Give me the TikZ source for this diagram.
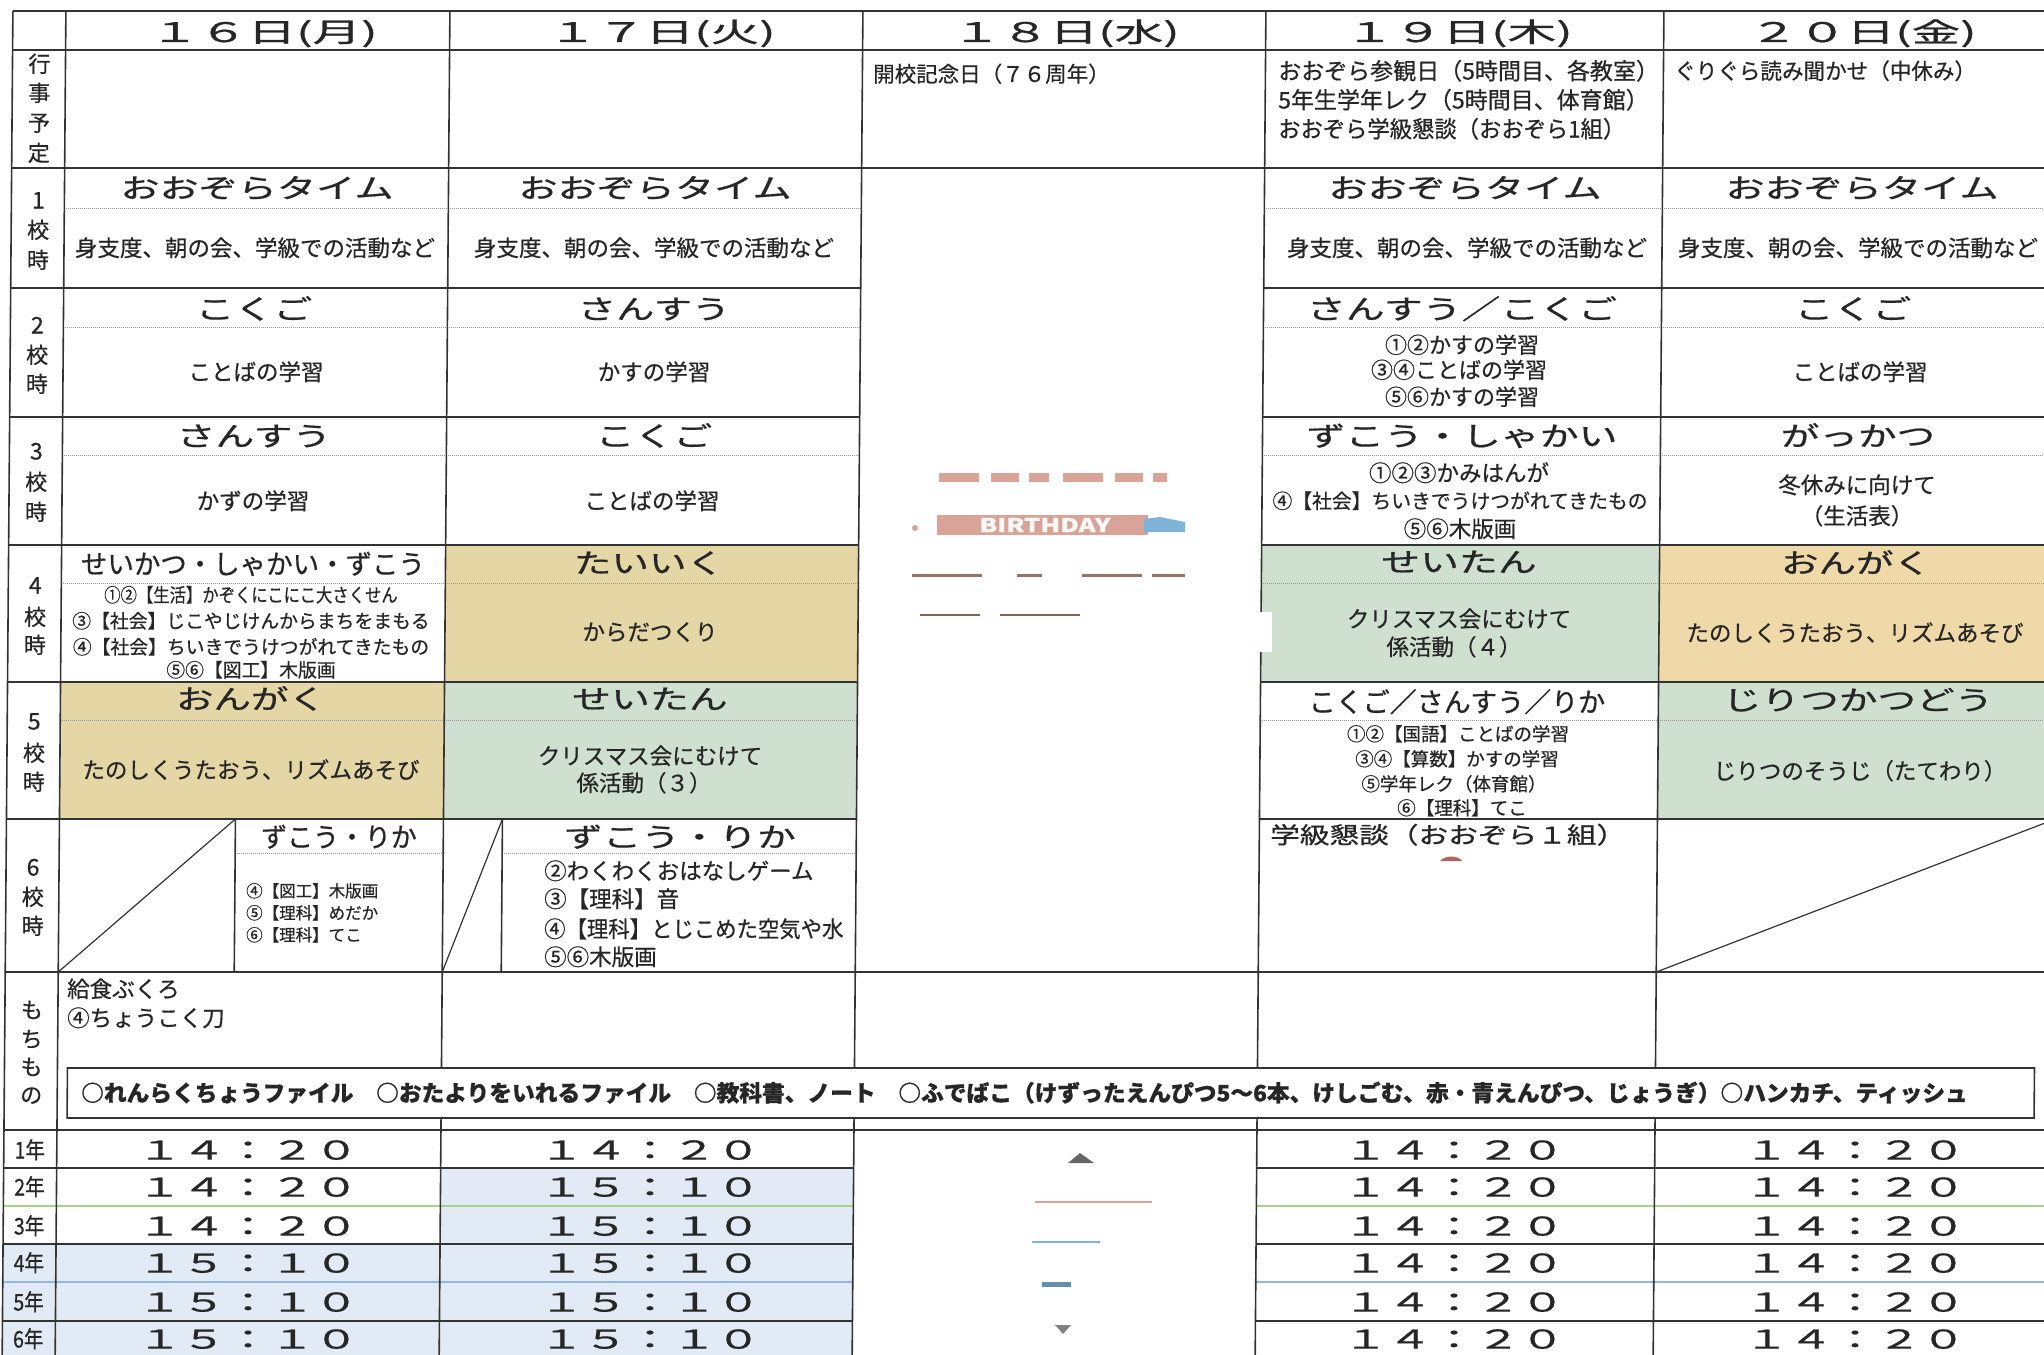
\documentclass[tikz,border=0pt]{standalone}
\usepackage{fontspec}
\usepackage{graphicx}
\setmainfont{Noto Sans CJK JP}[FakeBold=0.6]
\definecolor{tanA}{HTML}{E5D6A6}
\definecolor{tanB}{HTML}{EFD9A8}
\definecolor{grn}{HTML}{D0E0D0}
\definecolor{blu}{HTML}{E2EBF5}
\definecolor{gline}{HTML}{A9D18E}
\definecolor{bline}{HTML}{94B6DA}
\definecolor{ink}{HTML}{262626}
\definecolor{pnk}{HTML}{D9A397}
\definecolor{bluish}{HTML}{7FB3D8}
\newcounter{tn}
\newcommand\T[6]{\stepcounter{tn}\node[anchor=#1,yshift={-0.37*#4pt}] (t\arabic{tn}) at (#2,#3) {\fontsize{#4pt}{#4pt}\selectfont\scalebox{#5}[1]{#6}};}
\tikzset{
  grid/.style={draw=black!80,line width=1.6pt},
  sub/.style={draw=black!40,line width=1pt,densely dotted},
  every node/.style={inner sep=0pt,text=ink}
}
\begin{document}
\begin{tikzpicture}[x=1pt,y=-1pt]
\useasboundingbox (0,0) rectangle (2044,1354);
\fill[white] (0,0) rectangle (2044,1354);
\clip (0,0) rectangle (2044,1354);
\begin{scope}[xslant=0.008]
% cell fills
\fill[tanA] (66,682) rectangle (450,819);
\fill[tanA] (450,545) rectangle (863,682);
\fill[grn] (450,682) rectangle (863,819);
\fill[grn] (1266,545) rectangle (1664,682);
\fill[tanB] (1664,545) rectangle (2075,682);
\fill[grn] (1664,682) rectangle (2075,819);
\fill[blu] (13,1244) rectangle (450,1365);
\fill[blu] (450,1168) rectangle (863,1365);
% horizontal lines
\foreach \y in {11,50,168,972,1130} \draw[grid] (13,\y) -- (2075,\y);
\foreach \y in {288,417,545,682,819,1168,1244,1321} {\draw[grid] (13,\y) -- (863,\y); \draw[grid] (1266,\y) -- (2075,\y);}
\foreach \y/\c in {1206/gline,1282/bline} {\draw[draw=\c,line width=2.2pt] (13,\y) -- (863,\y); \draw[draw=\c,line width=2.2pt] (1266,\y) -- (2075,\y);}
\foreach \y in {208,327,455,583,720} {\draw[sub] (66,\y) -- (863,\y); \draw[sub] (1266,\y) -- (2075,\y);}
\draw[sub] (242,853) -- (450,853);
\draw[sub] (509,853) -- (863,853);
% vertical lines
\foreach \x in {13,66,450,863,1266,1664} \draw[grid] (\x,11) -- (\x,1365);
\draw[grid] (242,819) -- (242,972);
\draw[grid] (509,819) -- (509,972);
% diagonals
\draw[grid,line width=1.2pt] (66,972) -- (242,819);
\draw[grid,line width=1.2pt] (450,972) -- (509,819);
\draw[grid,line width=1.2pt] (1664,972) -- (2062,819);
% belongings box
\draw[grid,fill=white] (76,1068) rectangle (2043,1118);
% label column
\T{base}{40}{64}{22}{1}{行}
\T{base}{40}{93}{22}{1}{事}
\T{base}{40}{123}{22}{1}{予}
\T{base}{40}{153}{22}{1}{定}
\T{base}{40}{200}{23}{1}{1}
\T{base}{40}{230}{22}{1}{校}
\T{base}{40}{260}{22}{1}{時}
\T{base}{40}{325}{23}{1}{2}
\T{base}{40}{355}{22}{1}{校}
\T{base}{40}{384}{22}{1}{時}
\T{base}{40}{451}{23}{1}{3}
\T{base}{40}{482}{22}{1}{校}
\T{base}{40}{512}{22}{1}{時}
\T{base}{40}{585}{23}{1}{4}
\T{base}{40}{617}{22}{1}{校}
\T{base}{40}{645}{22}{1}{時}
\T{base}{40}{721}{23}{1}{5}
\T{base}{40}{753}{22}{1}{校}
\T{base}{40}{782}{22}{1}{時}
\T{base}{40}{867}{23}{1}{6}
\T{base}{40}{897}{22}{1}{校}
\T{base}{40}{926}{22}{1}{時}
\T{base}{40}{1010}{22}{1}{も}
\T{base}{40}{1039}{22}{1}{ち}
\T{base}{40}{1067}{22}{1}{も}
\T{base}{40}{1095}{22}{1}{の}
\T{base}{39}{1150}{23}{0.85}{1年}
\T{base}{39}{1187}{23}{0.85}{2年}
\T{base}{39}{1226}{23}{0.85}{3年}
\T{base}{39}{1263}{23}{0.85}{4年}
\T{base}{39}{1302}{23}{0.85}{5年}
\T{base}{39}{1339}{23}{0.85}{6年}
\end{scope}
% scan remnants in the 18th column
\draw[pnk,line width=9pt,dash pattern=on 40pt off 12pt on 28pt off 10pt on 20pt off 14pt] (939,477) -- (1167,477);
\fill[pnk] (937,515) rectangle (1148,535);
\fill[bluish] (1144,519) -- (1160,517) -- (1185,522) -- (1185,532) -- (1144,532) -- cycle;
\fill[pnk] (915,528) circle (3pt);
\node[text=white!92!pnk] (bday) at (1045,525) {\fontsize{19pt}{19pt}\selectfont\scalebox{1.35}[1]{\bfseries BIRTHDAY}};
\draw[pnk!70!black,line width=3pt,dash pattern=on 70pt off 35pt on 25pt off 40pt on 60pt off 10pt] (912,575) -- (1185,575);
\draw[pnk!60!black,line width=2pt,dash pattern=on 60pt off 20pt on 80pt off 200pt] (920,615) -- (1082,615);
\fill[white] (1254,612) rectangle (1272,652);
\fill[black!60] (1068,1163) -- (1080,1153) -- (1094,1163) -- cycle;
\draw[pnk,line width=1.5pt] (1035,1202) -- (1152,1202);
\draw[bluish,line width=2.5pt] (1032,1242) -- (1100,1242);
\fill[bluish!80!black] (1042,1282) rectangle (1071,1287);
\fill[black!50] (1055,1325) -- (1071,1325) -- (1063,1334) -- cycle;
\fill[black!55!red!60] (1440,861) .. controls (1445,855) and (1458,855) .. (1462,861) -- cycle;
% headers
\T{base}{264}{32}{27}{1.8}{１６日(月)}
\T{base}{662}{32}{27}{1.8}{１７日(火)}
\T{base}{1066}{32}{27}{1.8}{１８日(水)}
\T{base}{1459}{32}{27}{1.8}{１９日(木)}
\T{base}{1863}{32}{27}{1.8}{２０日(金)}
% events
\T{base west}{873}{74}{21.5}{1}{開校記念日（７６周年）}
\T{base west}{1278}{71}{23}{1}{おおぞら参観日（5時間目、各教室）}
\T{base west}{1278}{100}{23}{1}{5年生学年レク（5時間目、体育館）}
\T{base west}{1278}{129}{23}{0.97}{おおぞら学級懇談（おおぞら1組）}
\T{base west}{1674}{71}{22}{0.98}{ぐりぐら読み聞かせ（中休み）}
% period 1
\T{base}{257}{188}{27}{1.45}{おおぞらタイム}
\T{base}{655}{188}{27}{1.45}{おおぞらタイム}
\T{base}{1465}{188}{27}{1.45}{おおぞらタイム}
\T{base}{1862}{188}{27}{1.45}{おおぞらタイム}
\T{base}{255}{248}{22.5}{1}{身支度、朝の会、学級での活動など}
\T{base}{654}{248}{22.5}{1}{身支度、朝の会、学級での活動など}
\T{base}{1467}{248}{22.5}{1}{身支度、朝の会、学級での活動など}
\T{base}{1858}{248}{22.5}{1}{身支度、朝の会、学級での活動など}
% period 2
\T{base}{254}{309}{27}{1.44}{こくご}
\T{base}{654}{309}{27}{1.42}{さんすう}
\T{base}{1462}{309}{27}{1.44}{さんすう／こくご}
\T{base}{1853}{309}{27}{1.44}{こくご}
\T{base}{256}{372}{22.5}{1}{ことばの学習}
\T{base}{654}{372}{22.5}{1}{かすの学習}
\T{base}{1462}{345}{22}{1}{①②かすの学習}
\T{base}{1459}{370}{22}{1}{③④ことばの学習}
\T{base}{1462}{397}{22}{1}{⑤⑥かすの学習}
\T{base}{1860}{372}{22.5}{1}{ことばの学習}
% period 3
\T{base}{254}{436}{27}{1.44}{さんすう}
\T{base}{654}{436}{27}{1.44}{こくご}
\T{base}{1462}{436}{27}{1.44}{ずこう・しゃかい}
\T{base}{1858}{436}{27}{1.43}{がっかつ}
\T{base}{253}{501}{22.5}{1}{かずの学習}
\T{base}{652}{501}{22.5}{1}{ことばの学習}
\T{base}{1459}{473}{22.5}{1}{①②③かみはんが}
\T{base}{1460}{501}{20}{0.99}{④【社会】ちいきでうけつがれてきたもの}
\T{base}{1460}{529}{22.5}{1}{⑤⑥木版画}
\T{base}{1857}{485}{22.5}{1}{冬休みに向けて}
\T{base}{1857}{516}{22.5}{1}{（生活表）}
% period 4
\T{base}{253}{564}{27}{0.98}{せいかつ・しゃかい・ずこう}
\T{base}{649}{563}{27}{1.39}{たいいく}
\T{base}{1459}{562}{27}{1.44}{せいたん}
\T{base}{1856}{563}{27}{1.39}{おんがく}
\T{base}{251}{595}{19}{0.86}{①②【生活】かぞくにこにこ大さくせん}
\T{base}{251}{621}{19}{0.99}{③【社会】じこやじけんからまちをまもる}
\T{base}{251}{647}{19}{0.99}{④【社会】ちいきでうけつがれてきたもの}
\T{base}{251}{670}{19}{0.99}{⑤⑥【図工】木版画}
\T{base}{650}{632}{22.5}{1}{からだつくり}
\T{base}{1459}{619}{22.5}{1}{クリスマス会にむけて}
\T{base}{1454}{647}{22.5}{1}{係活動（４）}
\T{base}{1855}{633}{22.5}{1}{たのしくうたおう、リズムあそび}
% period 5
\T{base}{251}{699}{27}{1.39}{おんがく}
\T{base}{650}{699}{27}{1.44}{せいたん}
\T{base}{1457}{702}{27}{1.0}{こくご／さんすう／りか}
\T{base}{1858}{700}{27}{1.43}{じりつかつどう}
\T{base}{251}{770}{22.5}{1}{たのしくうたおう、リズムあそび}
\T{base}{650}{756}{22.5}{1}{クリスマス会にむけて}
\T{base}{644}{783}{22.5}{1}{係活動（３）}
\T{base}{1458}{734}{18.5}{1}{①②【国語】ことばの学習}
\T{base}{1457}{759}{18.5}{1}{③④【算数】かすの学習}
\T{base}{1454}{784}{18.5}{1}{⑤学年レク（体育館）}
\T{base}{1462}{808}{18.5}{1}{⑥【理科】てこ}
\T{base}{1860}{771}{22.5}{1}{じりつのそうじ（たてわり）}
% period 6
\T{base}{339}{837}{27}{0.96}{ずこう・りか}
\T{base west}{246}{891}{16.5}{1}{④【図工】木版画}
\T{base west}{246}{913}{16.5}{1}{⑤【理科】めだか}
\T{base west}{246}{935}{16.5}{1}{⑥【理科】てこ}
\T{base}{680}{837}{27}{1.43}{ずこう・りか}
\T{base west}{544}{871}{22.5}{1}{②わくわくおはなしゲーム}
\T{base west}{544}{899}{22.5}{1}{③【理科】音}
\T{base west}{544}{929}{22.5}{0.95}{④【理科】とじこめた空気や水}
\T{base west}{544}{957}{22.5}{1}{⑤⑥木版画}
\T{base west}{1270}{835}{23}{1.29}{学級懇談（おおぞら１組）}
% belongings
\T{base west}{67}{989}{22.5}{1}{給食ぶくろ}
\T{base west}{67}{1018}{22.5}{1}{④ちょうこく刀}
\T{base west}{81}{1093}{22.5}{1.01}{\bfseries ○れんらくちょうファイル　○おたよりをいれるファイル　○教科書、ノート　○ふでばこ（けずったえんぴつ5～6本、けしごむ、赤・青えんぴつ、じょうぎ）○ハンカチ、ティッシュ}
% dismissal times
\T{base}{248}{1150}{26}{1.7}{１４：２０}
\T{base}{248}{1187}{26}{1.7}{１４：２０}
\T{base}{248}{1226}{26}{1.7}{１４：２０}
\T{base}{248}{1263}{26}{1.7}{１５：１０}
\T{base}{248}{1302}{26}{1.7}{１５：１０}
\T{base}{248}{1339}{26}{1.7}{１５：１０}
\T{base}{650}{1150}{26}{1.7}{１４：２０}
\T{base}{650}{1187}{26}{1.7}{１５：１０}
\T{base}{650}{1226}{26}{1.7}{１５：１０}
\T{base}{650}{1263}{26}{1.7}{１５：１０}
\T{base}{650}{1302}{26}{1.7}{１５：１０}
\T{base}{650}{1339}{26}{1.7}{１５：１０}
\T{base}{1454}{1150}{26}{1.7}{１４：２０}
\T{base}{1454}{1187}{26}{1.7}{１４：２０}
\T{base}{1454}{1226}{26}{1.7}{１４：２０}
\T{base}{1454}{1263}{26}{1.7}{１４：２０}
\T{base}{1454}{1302}{26}{1.7}{１４：２０}
\T{base}{1454}{1339}{26}{1.7}{１４：２０}
\T{base}{1855}{1150}{26}{1.7}{１４：２０}
\T{base}{1855}{1187}{26}{1.7}{１４：２０}
\T{base}{1855}{1226}{26}{1.7}{１４：２０}
\T{base}{1855}{1263}{26}{1.7}{１４：２０}
\T{base}{1855}{1302}{26}{1.7}{１４：２０}
\T{base}{1855}{1339}{26}{1.7}{１４：２０}
\end{tikzpicture}
\end{document}
